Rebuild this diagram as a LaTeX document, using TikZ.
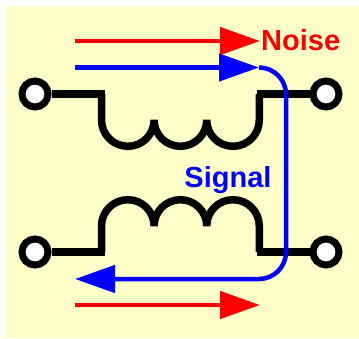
\documentclass[tikz,border=0pt]{standalone}
\usepackage{fontspec}
\setmainfont{Liberation Sans}
\usepackage{tikz}
\usetikzlibrary{arrows.meta, positioning}
\definecolor{paper}{RGB}{255,255,200}
\tikzset{
  wire/.style={line width=7.5pt, black, line join=bevel},
  term/.style={circle, draw=black, fill=white, line width=7pt, minimum size=26pt, inner sep=0pt},
  flowred/.style={line width=4.5pt, red, -{Triangle[length=40pt,width=27pt]}},
  flowblue/.style={line width=4.5pt, blue, -{Triangle[length=40pt,width=27pt]}},
  tag/.style={font=\fontsize{29}{29}\selectfont\bfseries, inner sep=0pt}
}
\begin{document}
\begin{tikzpicture}[x=1pt, y=-1pt]
      \useasboundingbox (0,0) rectangle (359,338);
      \fill[paper] (5,6) rectangle (359,338);
      % terminals
      \node[term] (lt) at (35,94) {};
      \node[term] (rt) at (326,94) {};
      \node[term] (lb) at (35,252) {};
      \node[term] (rb) at (326,252) {};
      \coordinate (ca) at (101.5,94);
      \coordinate (cb) at (259.5,94);
      \coordinate (cc) at (101.5,252);
      \coordinate (cd) at (259.5,252);
      % upper coil
      \draw[wire] (lt) -- ([xshift=3pt]ca);
      \draw[wire] (ca) -- ++(0,26)
        arc[start angle=180, end angle=0, radius=26.3]
        arc[start angle=180, end angle=0, radius=26.3]
        arc[start angle=180, end angle=0, radius=26.3] -- (cb);
      \draw[wire] ([xshift=-3pt]cb) -- (rt);
      % lower coil
      \draw[wire] (lb) -- ([xshift=3pt]cc);
      \draw[wire] (cc) -- ++(0,-26)
        arc[start angle=180, end angle=360, radius=26.3]
        arc[start angle=180, end angle=360, radius=26.3]
        arc[start angle=180, end angle=360, radius=26.3] -- (cd);
      \draw[wire] ([xshift=-3pt]cd) -- (rb);
      % noise
      \coordinate (na) at (75,41);
      \coordinate (nb) at (260,41);
      \coordinate (nc) at (75,305);
      \coordinate (nd) at (260,305);
      \draw[flowred] (na) -- (nb);
      \draw[flowred] (nc) -- (nd);
      % signal
      \coordinate (sa) at (75,67.5);
      \coordinate (sb) at (259,67.5);
      \coordinate (sc) at (75,279);
      \draw[flowblue] (sa) -- (sb);
      \draw[flowblue] (sb) arc[start angle=-90, end angle=0, radius=27] -- ++(0,157.5)
        arc[start angle=0, end angle=90, radius=27] -- (sc);
      \node[tag, text=red, anchor=base west] (noise) at (261,50) {Noise};
      \node[tag, text=blue, anchor=base] (signal) at (228,187.5) {Signal};
    \end{tikzpicture}
\end{document}
